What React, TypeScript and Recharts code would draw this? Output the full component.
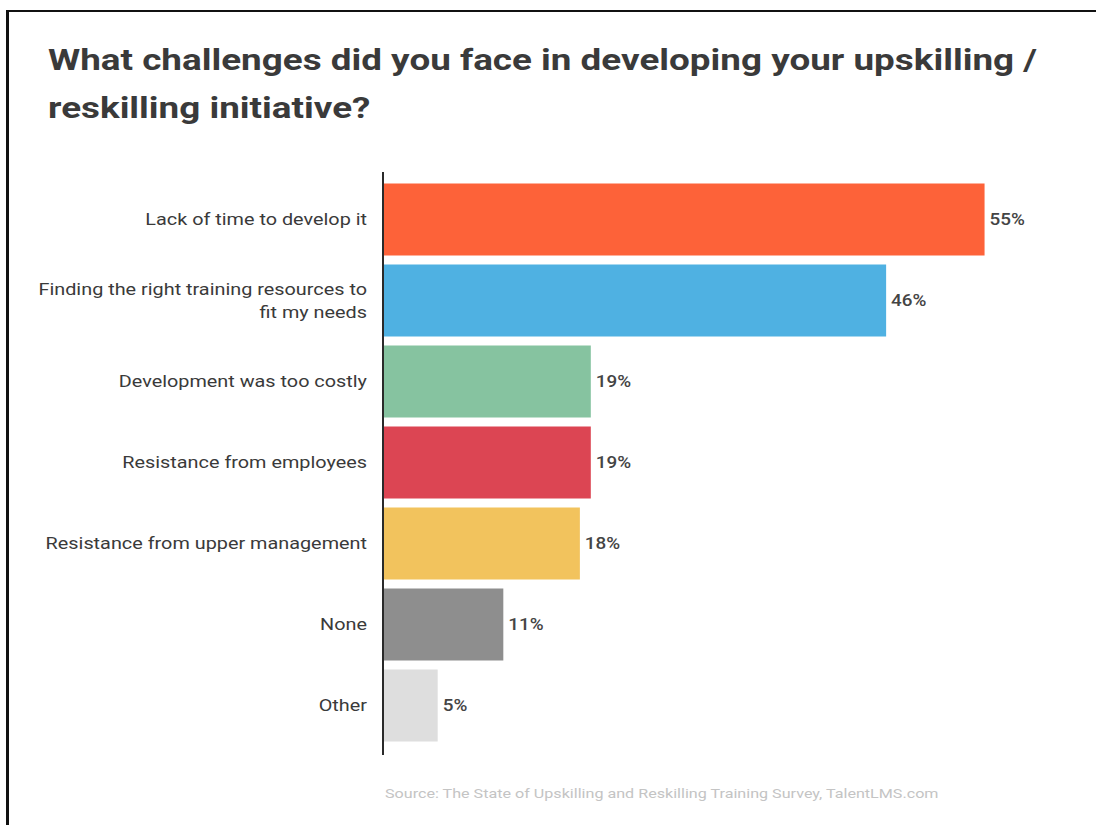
import { Bar, BarChart, Cell, LabelList, XAxis, YAxis } from "recharts";

const categories = [
  "Lack of time to develop it",
  "Finding the right training resources to|fit my needs",
  "Development was too costly",
  "Resistance from employees",
  "Resistance from upper management",
  "None",
  "Other",
];
const shares = [55, 46, 19, 19, 18, 11, 5];
const colors = ["#FD6239", "#4FB1E2", "#86C3A0", "#DC4553", "#F2C35D", "#8E8E8E", "#DEDEDE"];

const data = categories.map((name, i) => ({ name, value: shares[i] }));

const font = "Roboto, 'Noto Sans', sans-serif";
// the original picture is stretched a bit sideways
const stretch = 1.24;

function CategoryTick(props: any) {
  const { x, y, payload } = props;
  const lines = String(payload.value).split("|");
  const lh = 23;
  const start = y - ((lines.length - 1) * lh) / 2;
  return (
    <text
      x={x}
      y={start}
      textAnchor="end"
      dominantBaseline="central"
      fill="#3a3a3a"
      fontSize={16}
      fontFamily={font}
      transform={`translate(${x},0) scale(${stretch},1) translate(${-x},0)`}
    >
      {lines.map((l, i) => (
        <tspan key={i} x={x} y={start + i * lh} dominantBaseline="central">
          {l}
        </tspan>
      ))}
    </text>
  );
}

function ValueLabel(props: any) {
  const { x, y, width, height, value } = props;
  const lx = x + width + 5;
  return (
    <text
      x={lx}
      y={y + height / 2}
      dominantBaseline="central"
      fill="#444"
      fontSize={16}
      fontWeight={500}
      fontFamily={font}
      transform={`translate(${lx},0) scale(1.18,1) translate(${-lx},0)`}
    >
      {value}%
    </text>
  );
}

export default function App() {
  return (
    <div style={{ position: "absolute", left: 0, top: 0, width: 1096, height: 825, background: "#fff", overflow: "hidden", fontFamily: font }}>
      <div style={{ position: "absolute", left: 6, top: 10, width: 1200, height: 900, borderTop: "2px solid #111", borderLeft: "3px solid #111" }} />
      <div
        style={{
          position: "absolute",
          left: 48,
          top: 36,
          width: 800,
          fontSize: 29,
          fontWeight: 700,
          color: "#3a3a3a",
          lineHeight: "48px",
          transform: `scaleX(${stretch + 0.03})`,
          transformOrigin: "left top",
        }}
      >
        What challenges did you face in developing your upskilling / reskilling initiative?
      </div>
      <div style={{ position: "absolute", left: 0, top: 0 }}>
        <BarChart width={1096} height={825} data={data} layout="vertical" margin={{ top: 172, right: 13, bottom: 70, left: 0 }} barSize={72}>
          <XAxis type="number" domain={[0, 64]} hide />
          <YAxis
            type="category"
            dataKey="name"
            width={383}
            tickLine={false}
            tickSize={0}
            tickMargin={16}
            axisLine={{ stroke: "#2a2a2a", strokeWidth: 2 }}
            padding={{ top: 6.5, bottom: 9.5 }}
            tick={<CategoryTick />}
            interval={0}
          />
          <Bar dataKey="value" isAnimationActive={false}>
            {data.map((_, i) => (
              <Cell key={i} fill={colors[i]} />
            ))}
            <LabelList dataKey="value" content={<ValueLabel />} />
          </Bar>
        </BarChart>
      </div>
      <div
        style={{
          position: "absolute",
          left: 385,
          top: 786,
          fontSize: 13,
          color: "#c4c4c4",
          whiteSpace: "nowrap",
          transform: `scaleX(${stretch})`,
          transformOrigin: "left top",
        }}
      >
        Source: The State of Upskilling and Reskilling Training Survey, TalentLMS.com
      </div>
    </div>
  );
}
